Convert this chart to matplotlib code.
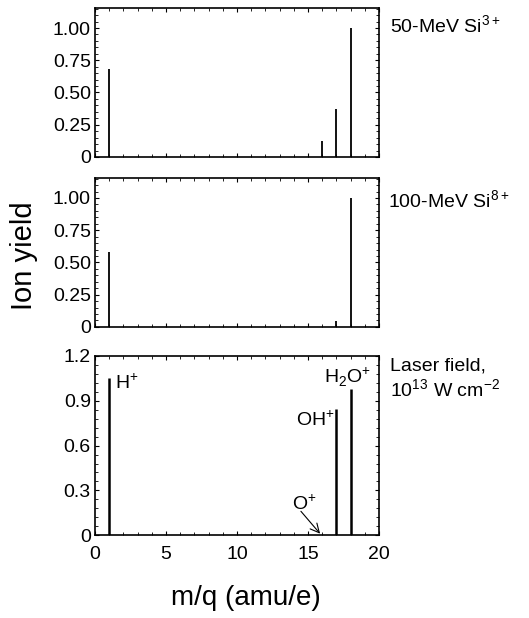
import matplotlib.pyplot as plt
from matplotlib.ticker import MultipleLocator

plt.rcParams['font.family'] = ['Liberation Sans', 'DejaVu Sans']
plt.rcParams['mathtext.fontset'] = 'custom'
plt.rcParams['mathtext.rm'] = 'Liberation Sans'

# m/q positions and ion yields
mq_si3 = [1, 16, 17, 18]
yield_si3 = [0.68, 0.12, 0.37, 1.00]

mq_si8 = [1, 17, 18]
yield_si8 = [0.58, 0.045, 1.00]

mq_laser = [1, 16, 17, 18]
yield_laser = [1.05, 0.004, 0.845, 0.98]

panel_labels = ['50-MeV Si$^{3+}$', '100-MeV Si$^{8+}$',
                'Laser field,\n10$^{13}$ W cm$^{-2}$']

fs = 14

fig = plt.figure(figsize=(5.29, 6.18), dpi=100)

boxes = [
    [0.1796, 0.746, 0.5369, 0.241],
    [0.1796, 0.471, 0.5369, 0.241],
    [0.1796, 0.134, 0.5369, 0.290],
]
series = [(mq_si3, yield_si3), (mq_si8, yield_si8), (mq_laser, yield_laser)]
lws = [1.3, 1.3, 1.8]

axes = []
for box, (x, y), lw in zip(boxes, series, lws):
    ax = fig.add_axes(box)
    ax.vlines(x, 0, y, color='black', lw=lw)
    ax.set_xlim(0, 20)
    ax.set_xticks([0, 5, 10, 15, 20])
    ax.xaxis.set_minor_locator(MultipleLocator(1))
    ax.tick_params(which='both', direction='in', top=True, right=True, labelsize=fs)
    ax.tick_params(which='major', length=3, width=0.8, pad=3)
    ax.tick_params(which='minor', length=2, width=0.6)
    ax.tick_params(axis='x', which='major', pad=8)
    for sp in ax.spines.values():
        sp.set_linewidth(1.2)
    axes.append(ax)

for ax in axes[:2]:
    ax.set_ylim(0, 1.155)
    ax.set_yticks([0, 0.25, 0.5, 0.75, 1.0])
    ax.set_yticklabels(['0', '0.25', '0.50', '0.75', '1.00'])
    ax.yaxis.set_minor_locator(MultipleLocator(0.05))
    ax.set_xticklabels([])

ax3 = axes[2]
ax3.set_ylim(0, 1.2)
ax3.set_yticks([0, 0.3, 0.6, 0.9, 1.2])
ax3.set_yticklabels(['0', '0.3', '0.6', '0.9', '1.2'])
ax3.yaxis.set_minor_locator(MultipleLocator(0.06))
ax3.set_xticklabels(['0', '5', '10', '15', '20'])

# panel captions
axes[0].text(1.04, 0.88, panel_labels[0], transform=axes[0].transAxes,
             fontsize=fs, va='center', ha='left')
axes[1].text(1.03, 0.85, panel_labels[1], transform=axes[1].transAxes,
             fontsize=fs, va='center', ha='left')
ax3.text(1.04, 0.87, panel_labels[2], transform=ax3.transAxes,
         fontsize=fs, va='center', ha='left', linespacing=1.2)

# peak labels in the laser panel
ax3.text(1.4, 1.02, 'H$^{+}$', fontsize=fs, va='center', ha='left')
ax3.text(17.75, 1.06, 'H$_{2}$O$^{+}$', fontsize=fs, va='center', ha='center')
ax3.text(16.85, 0.77, 'OH$^{+}$', fontsize=fs, va='center', ha='right')
ax3.annotate('', xy=(15.85, 0.01), xytext=(14.5, 0.16),
             arrowprops=dict(arrowstyle='->', lw=0.8, color='black',
                             mutation_scale=16, shrinkA=0, shrinkB=0))
ax3.text(14.75, 0.21, 'O$^{+}$', fontsize=fs, ha='center', va='center')

fig.text(0.046, 0.587, 'Ion yield', rotation=90, fontsize=21,
         ha='center', va='center')
fig.text(0.465, 0.032, 'm/q (amu/e)', fontsize=20, ha='center', va='center')

fig.savefig('out.png', dpi=100)
